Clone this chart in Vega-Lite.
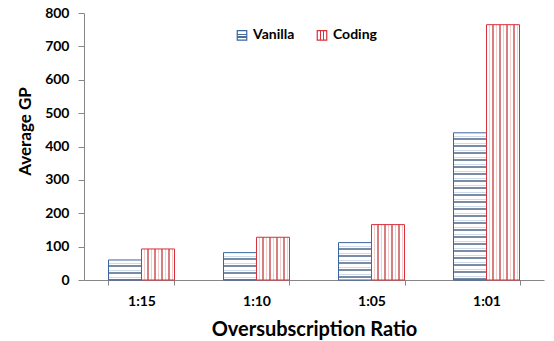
{
  "$schema": "https://vega.github.io/schema/vega-lite/v6.json",
  "autosize": {"type": "none"},
  "width": 460,
  "height": 267,
  "padding": {"left": 84, "top": 13, "right": 10, "bottom": 61},
  "config": {
    "font": "Lato",
    "view": {"stroke": null},
    "axis": {"labelFont": "Lato", "titleFont": "Lato", "labelFontWeight": "bold", "titleFontWeight": "bold", "labelColor": "#000000", "titleColor": "#000000", "domainColor": "#868686", "tickColor": "#868686", "grid": false}
  },
  "params": [
    {"name": "vst", "value": [
      {"offset":0,"color":"#ffffff"},{"offset":0.01948,"color":"#ffffff"},{"offset":0.01948,"color":"#cddbec"},{"offset":0.02597,"color":"#cddbec"},{"offset":0.02597,"color":"#ffffff"},{"offset":0.03571,"color":"#ffffff"},{"offset":0.03571,"color":"#7a8ba4"},{"offset":0.04545,"color":"#7a8ba4"},
      {"offset":0.04545,"color":"#ffffff"},{"offset":0.06494,"color":"#ffffff"},{"offset":0.06494,"color":"#cddbec"},{"offset":0.07143,"color":"#cddbec"},{"offset":0.07143,"color":"#ffffff"},{"offset":0.08117,"color":"#ffffff"},{"offset":0.08117,"color":"#7a8ba4"},{"offset":0.09091,"color":"#7a8ba4"},
      {"offset":0.09091,"color":"#ffffff"},{"offset":0.11039,"color":"#ffffff"},{"offset":0.11039,"color":"#cddbec"},{"offset":0.11688,"color":"#cddbec"},{"offset":0.11688,"color":"#ffffff"},{"offset":0.12662,"color":"#ffffff"},{"offset":0.12662,"color":"#7a8ba4"},{"offset":0.13636,"color":"#7a8ba4"},
      {"offset":0.13636,"color":"#ffffff"},{"offset":0.15584,"color":"#ffffff"},{"offset":0.15584,"color":"#cddbec"},{"offset":0.16234,"color":"#cddbec"},{"offset":0.16234,"color":"#ffffff"},{"offset":0.17208,"color":"#ffffff"},{"offset":0.17208,"color":"#7a8ba4"},{"offset":0.18182,"color":"#7a8ba4"},
      {"offset":0.18182,"color":"#ffffff"},{"offset":0.2013,"color":"#ffffff"},{"offset":0.2013,"color":"#cddbec"},{"offset":0.20779,"color":"#cddbec"},{"offset":0.20779,"color":"#ffffff"},{"offset":0.21753,"color":"#ffffff"},{"offset":0.21753,"color":"#7a8ba4"},{"offset":0.22727,"color":"#7a8ba4"},
      {"offset":0.22727,"color":"#ffffff"},{"offset":0.24675,"color":"#ffffff"},{"offset":0.24675,"color":"#cddbec"},{"offset":0.25325,"color":"#cddbec"},{"offset":0.25325,"color":"#ffffff"},{"offset":0.26299,"color":"#ffffff"},{"offset":0.26299,"color":"#7a8ba4"},{"offset":0.27273,"color":"#7a8ba4"},
      {"offset":0.27273,"color":"#ffffff"},{"offset":0.29221,"color":"#ffffff"},{"offset":0.29221,"color":"#cddbec"},{"offset":0.2987,"color":"#cddbec"},{"offset":0.2987,"color":"#ffffff"},{"offset":0.30844,"color":"#ffffff"},{"offset":0.30844,"color":"#7a8ba4"},{"offset":0.31818,"color":"#7a8ba4"},
      {"offset":0.31818,"color":"#ffffff"},{"offset":0.33766,"color":"#ffffff"},{"offset":0.33766,"color":"#cddbec"},{"offset":0.34416,"color":"#cddbec"},{"offset":0.34416,"color":"#ffffff"},{"offset":0.3539,"color":"#ffffff"},{"offset":0.3539,"color":"#7a8ba4"},{"offset":0.36364,"color":"#7a8ba4"},
      {"offset":0.36364,"color":"#ffffff"},{"offset":0.38312,"color":"#ffffff"},{"offset":0.38312,"color":"#cddbec"},{"offset":0.38961,"color":"#cddbec"},{"offset":0.38961,"color":"#ffffff"},{"offset":0.39935,"color":"#ffffff"},{"offset":0.39935,"color":"#7a8ba4"},{"offset":0.40909,"color":"#7a8ba4"},
      {"offset":0.40909,"color":"#ffffff"},{"offset":0.42857,"color":"#ffffff"},{"offset":0.42857,"color":"#cddbec"},{"offset":0.43506,"color":"#cddbec"},{"offset":0.43506,"color":"#ffffff"},{"offset":0.44481,"color":"#ffffff"},{"offset":0.44481,"color":"#7a8ba4"},{"offset":0.45455,"color":"#7a8ba4"},
      {"offset":0.45455,"color":"#ffffff"},{"offset":0.47403,"color":"#ffffff"},{"offset":0.47403,"color":"#cddbec"},{"offset":0.48052,"color":"#cddbec"},{"offset":0.48052,"color":"#ffffff"},{"offset":0.49026,"color":"#ffffff"},{"offset":0.49026,"color":"#7a8ba4"},{"offset":0.5,"color":"#7a8ba4"},
      {"offset":0.5,"color":"#ffffff"},{"offset":0.51948,"color":"#ffffff"},{"offset":0.51948,"color":"#cddbec"},{"offset":0.52597,"color":"#cddbec"},{"offset":0.52597,"color":"#ffffff"},{"offset":0.53571,"color":"#ffffff"},{"offset":0.53571,"color":"#7a8ba4"},{"offset":0.54545,"color":"#7a8ba4"},
      {"offset":0.54545,"color":"#ffffff"},{"offset":0.56494,"color":"#ffffff"},{"offset":0.56494,"color":"#cddbec"},{"offset":0.57143,"color":"#cddbec"},{"offset":0.57143,"color":"#ffffff"},{"offset":0.58117,"color":"#ffffff"},{"offset":0.58117,"color":"#7a8ba4"},{"offset":0.59091,"color":"#7a8ba4"},
      {"offset":0.59091,"color":"#ffffff"},{"offset":0.61039,"color":"#ffffff"},{"offset":0.61039,"color":"#cddbec"},{"offset":0.61688,"color":"#cddbec"},{"offset":0.61688,"color":"#ffffff"},{"offset":0.62662,"color":"#ffffff"},{"offset":0.62662,"color":"#7a8ba4"},{"offset":0.63636,"color":"#7a8ba4"},
      {"offset":0.63636,"color":"#ffffff"},{"offset":0.65584,"color":"#ffffff"},{"offset":0.65584,"color":"#cddbec"},{"offset":0.66234,"color":"#cddbec"},{"offset":0.66234,"color":"#ffffff"},{"offset":0.67208,"color":"#ffffff"},{"offset":0.67208,"color":"#7a8ba4"},{"offset":0.68182,"color":"#7a8ba4"},
      {"offset":0.68182,"color":"#ffffff"},{"offset":0.7013,"color":"#ffffff"},{"offset":0.7013,"color":"#cddbec"},{"offset":0.70779,"color":"#cddbec"},{"offset":0.70779,"color":"#ffffff"},{"offset":0.71753,"color":"#ffffff"},{"offset":0.71753,"color":"#7a8ba4"},{"offset":0.72727,"color":"#7a8ba4"},
      {"offset":0.72727,"color":"#ffffff"},{"offset":0.74675,"color":"#ffffff"},{"offset":0.74675,"color":"#cddbec"},{"offset":0.75325,"color":"#cddbec"},{"offset":0.75325,"color":"#ffffff"},{"offset":0.76299,"color":"#ffffff"},{"offset":0.76299,"color":"#7a8ba4"},{"offset":0.77273,"color":"#7a8ba4"},
      {"offset":0.77273,"color":"#ffffff"},{"offset":0.79221,"color":"#ffffff"},{"offset":0.79221,"color":"#cddbec"},{"offset":0.7987,"color":"#cddbec"},{"offset":0.7987,"color":"#ffffff"},{"offset":0.80844,"color":"#ffffff"},{"offset":0.80844,"color":"#7a8ba4"},{"offset":0.81818,"color":"#7a8ba4"},
      {"offset":0.81818,"color":"#ffffff"},{"offset":0.83766,"color":"#ffffff"},{"offset":0.83766,"color":"#cddbec"},{"offset":0.84416,"color":"#cddbec"},{"offset":0.84416,"color":"#ffffff"},{"offset":0.8539,"color":"#ffffff"},{"offset":0.8539,"color":"#7a8ba4"},{"offset":0.86364,"color":"#7a8ba4"},
      {"offset":0.86364,"color":"#ffffff"},{"offset":0.88312,"color":"#ffffff"},{"offset":0.88312,"color":"#cddbec"},{"offset":0.88961,"color":"#cddbec"},{"offset":0.88961,"color":"#ffffff"},{"offset":0.89935,"color":"#ffffff"},{"offset":0.89935,"color":"#7a8ba4"},{"offset":0.90909,"color":"#7a8ba4"},
      {"offset":0.90909,"color":"#ffffff"},{"offset":0.92857,"color":"#ffffff"},{"offset":0.92857,"color":"#cddbec"},{"offset":0.93506,"color":"#cddbec"},{"offset":0.93506,"color":"#ffffff"},{"offset":0.94481,"color":"#ffffff"},{"offset":0.94481,"color":"#7a8ba4"},{"offset":0.95455,"color":"#7a8ba4"},
      {"offset":0.95455,"color":"#ffffff"},{"offset":0.97403,"color":"#ffffff"},{"offset":0.97403,"color":"#cddbec"},{"offset":0.98052,"color":"#cddbec"},{"offset":0.98052,"color":"#ffffff"},{"offset":0.99026,"color":"#ffffff"},{"offset":0.99026,"color":"#7a8ba4"},{"offset":1,"color":"#7a8ba4"}
    ]},
    {"name": "cst", "value": [
      {"offset":0,"color":"#ffffff"},{"offset":0.09,"color":"#ffffff"},{"offset":0.09,"color":"#f5cccc"},{"offset":0.12,"color":"#f5cccc"},{"offset":0.12,"color":"#ffffff"},{"offset":0.18,"color":"#ffffff"},{"offset":0.18,"color":"#d77f80"},{"offset":0.24,"color":"#d77f80"},{"offset":0.24,"color":"#ffffff"},
      {"offset":0.30,"color":"#ffffff"},{"offset":0.30,"color":"#f5cccc"},{"offset":0.33,"color":"#f5cccc"},{"offset":0.33,"color":"#ffffff"},{"offset":0.39,"color":"#ffffff"},{"offset":0.39,"color":"#d77f80"},{"offset":0.45,"color":"#d77f80"},{"offset":0.45,"color":"#ffffff"},
      {"offset":0.51,"color":"#ffffff"},{"offset":0.51,"color":"#f5cccc"},{"offset":0.54,"color":"#f5cccc"},{"offset":0.54,"color":"#ffffff"},{"offset":0.60,"color":"#ffffff"},{"offset":0.60,"color":"#d77f80"},{"offset":0.66,"color":"#d77f80"},{"offset":0.66,"color":"#ffffff"},
      {"offset":0.72,"color":"#ffffff"},{"offset":0.72,"color":"#f5cccc"},{"offset":0.75,"color":"#f5cccc"},{"offset":0.75,"color":"#ffffff"},{"offset":0.81,"color":"#ffffff"},{"offset":0.81,"color":"#d77f80"},{"offset":0.87,"color":"#d77f80"},{"offset":0.87,"color":"#ffffff"},
      {"offset":0.93,"color":"#ffffff"},{"offset":0.93,"color":"#f5cccc"},{"offset":0.96,"color":"#f5cccc"},{"offset":0.96,"color":"#ffffff"},{"offset":1,"color":"#ffffff"}
    ]},
    {"name": "lvst", "value": [
      {"offset":0,"color":"#ffffff"},{"offset":0.3,"color":"#ffffff"},{"offset":0.3,"color":"#4a6d9f"},{"offset":0.42,"color":"#4a6d9f"},{"offset":0.42,"color":"#ffffff"},{"offset":0.6,"color":"#ffffff"},{"offset":0.6,"color":"#4a6d9f"},{"offset":0.72,"color":"#4a6d9f"},{"offset":0.72,"color":"#ffffff"},{"offset":1,"color":"#ffffff"}
    ]},
    {"name": "lcst", "value": [
      {"offset":0,"color":"#ffffff"},{"offset":0.3,"color":"#ffffff"},{"offset":0.3,"color":"#d9303b"},{"offset":0.42,"color":"#d9303b"},{"offset":0.42,"color":"#ffffff"},{"offset":0.6,"color":"#ffffff"},{"offset":0.6,"color":"#d9303b"},{"offset":0.72,"color":"#d9303b"},{"offset":0.72,"color":"#ffffff"},{"offset":1,"color":"#ffffff"}
    ]}
  ],
  "data": {
    "values": [
      {"ratio": "1:15", "series": "Vanilla", "value": 60},
      {"ratio": "1:10", "series": "Vanilla", "value": 82},
      {"ratio": "1:05", "series": "Vanilla", "value": 112},
      {"ratio": "1:01", "series": "Vanilla", "value": 441},
      {"ratio": "1:15", "series": "Coding", "value": 93},
      {"ratio": "1:10", "series": "Coding", "value": 128},
      {"ratio": "1:05", "series": "Coding", "value": 166},
      {"ratio": "1:01", "series": "Coding", "value": 765}
    ]
  },
  "mark": {
    "type": "bar",
    "strokeWidth": 1,
    "fill": {"expr": "datum.value === 'Vanilla' ? {gradient: 'linear', x1: 0, y1: 0, x2: 0.000001, y2: 1, stops: lvst} : datum.value === 'Coding' ? {gradient: 'linear', x1: 0, y1: 0, x2: 1, y2: 0, stops: lcst} : datum.series === 'Vanilla' ? {gradient: 'linear', x1: 0, y1: 0, x2: 0.000001, y2: 154 / max(1, scale('y', 0) - scale('y', datum.value)), stops: vst} : {gradient: 'linear', x1: 0, y1: 0, x2: 1, y2: 0, stops: cst}"}
  },
  "encoding": {
    "x": {
      "field": "ratio", "type": "nominal", "sort": ["1:15", "1:10", "1:05", "1:01"],
      "scale": {"paddingInner": 0.4261, "paddingOuter": 0.2130},
      "axis": {"title": "Oversubscription Ratio", "labelAngle": 0, "labelFontSize": 14, "titleFontSize": 20, "tickBand": "extent", "tickSize": 5, "labelPadding": 20, "labelBaseline": "alphabetic", "titleY": 55, "titleBaseline": "alphabetic"}
    },
    "xOffset": {"field": "series", "type": "nominal", "sort": ["Vanilla", "Coding"], "scale": {"paddingInner": 0, "paddingOuter": 0}},
    "y": {
      "field": "value", "type": "quantitative",
      "scale": {"domain": [0, 800], "nice": false},
      "axis": {"title": "Average GP", "values": [0, 100, 200, 300, 400, 500, 600, 700, 800], "labelFontSize": 14, "titleFontSize": 17, "tickSize": 6, "labelPadding": 9, "titleX": -59, "titleY": 118, "titleAngle": -90, "titleBaseline": "middle", "titleAlign": "center"}
    },
    "stroke": {
      "field": "series", "type": "nominal",
      "scale": {"domain": ["Vanilla", "Coding"], "range": ["#3b65a0", "#d9303b"]},
      "legend": {
        "title": null, "orient": "none", "direction": "horizontal", "legendX": 151, "legendY": 15,
        "symbolType": "square", "symbolSize": 90, "symbolStrokeWidth": 1.2,
        "labelFont": "Lato", "labelFontWeight": "bold", "labelFontSize": 14, "labelColor": "#000000", "labelOffset": 4, "columnPadding": 19
      }
    }
  }
}
